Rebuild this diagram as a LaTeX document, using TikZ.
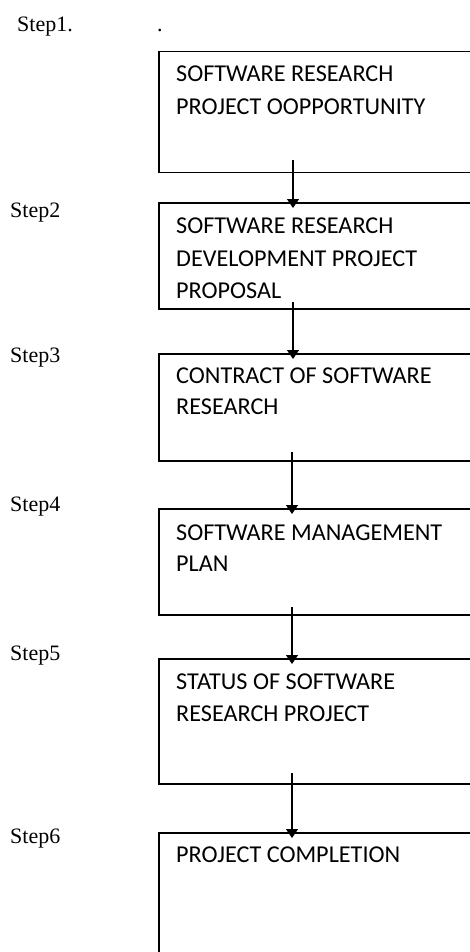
\documentclass[tikz,border=0pt]{standalone}
\usepackage{fontspec}
\setmainfont{Liberation Serif}
\newfontfamily\boxfont{Carlito}
\usetikzlibrary{arrows.meta}
\begin{document}
\begin{tikzpicture}[x=1pt,y=-1pt,
  stepbox/.style={draw=black,line width=1.5pt,rectangle,anchor=north west,inner sep=0pt,minimum width=330pt},
  boxtext/.style={anchor=base west,inner sep=0pt,font=\boxfont\fontsize{24.2}{28}\selectfont,text=black},
  steplabel/.style={anchor=base west,inner sep=0pt,font=\fontsize{22}{25}\selectfont,text=black},
  arr/.style={line width=1.3pt,-{Triangle[width=12pt,length=9pt]}}]
\useasboundingbox (0,0) rectangle (470,952);
\fill[white] (0,0) rectangle (470,952);
% boxes
\node[stepbox,minimum height=121pt] (b1) at (158,51) {};
\node[stepbox,minimum height=106pt] (b2) at (158,202) {};
\node[stepbox,minimum height=107pt] (b3) at (158,353) {};
\node[stepbox,minimum height=106pt] (b4) at (158,508) {};
\node[stepbox,minimum height=125pt] (b5) at (158,658) {};
\node[stepbox,minimum height=140pt] (b6) at (158,832) {};
% texts
\node[boxtext] (t1a) at (176,82) {SOFTWARE RESEARCH};
\node[boxtext] (t1b) at (176,115) {PROJECT OOPPORTUNITY};
\node[boxtext] (t2a) at (176,233) {SOFTWARE RESEARCH};
\node[boxtext] (t2b) at (176,266) {DEVELOPMENT PROJECT};
\node[boxtext] (t2c) at (176,298) {PROPOSAL};
\node[boxtext] (t3a) at (176,383) {CONTRACT OF SOFTWARE};
\node[boxtext] (t3b) at (176,414) {RESEARCH};
\node[boxtext] (t4a) at (176,540) {SOFTWARE MANAGEMENT};
\node[boxtext] (t4b) at (176,571) {PLAN};
\node[boxtext] (t5a) at (176,689) {STATUS OF SOFTWARE};
\node[boxtext] (t5b) at (176,721) {RESEARCH PROJECT};
\node[boxtext] (t6a) at (176,862) {PROJECT COMPLETION};
% step labels
\node[steplabel] (s1) at (17,32) {Step1.};
\node[steplabel] (dot) at (157,32) {.};
\node[steplabel] (s2) at (10,217) {Step2};
\node[steplabel] (s3) at (10,362) {Step3};
\node[steplabel] (s4) at (10,511) {Step4};
\node[steplabel] (s5) at (10,660) {Step5};
\node[steplabel] (s6) at (10,843) {Step6};
% arrow start points
\coordinate (a1) at (293,160);
\coordinate (a2) at (293,302);
\coordinate (a3) at (292,452);
\coordinate (a4) at (292,607);
\coordinate (a5) at (292,773);
\draw[arr] (a1) -- ([yshift=-6pt]b2.north west -| a1);
\draw[arr] (a2) -- ([yshift=-6pt]b3.north west -| a2);
\draw[arr] (a3) -- ([yshift=-6pt]b4.north west -| a3);
\draw[arr] (a4) -- ([yshift=-6pt]b5.north west -| a4);
\draw[arr] (a5) -- ([yshift=-6pt]b6.north west -| a5);
\end{tikzpicture}
\end{document}
